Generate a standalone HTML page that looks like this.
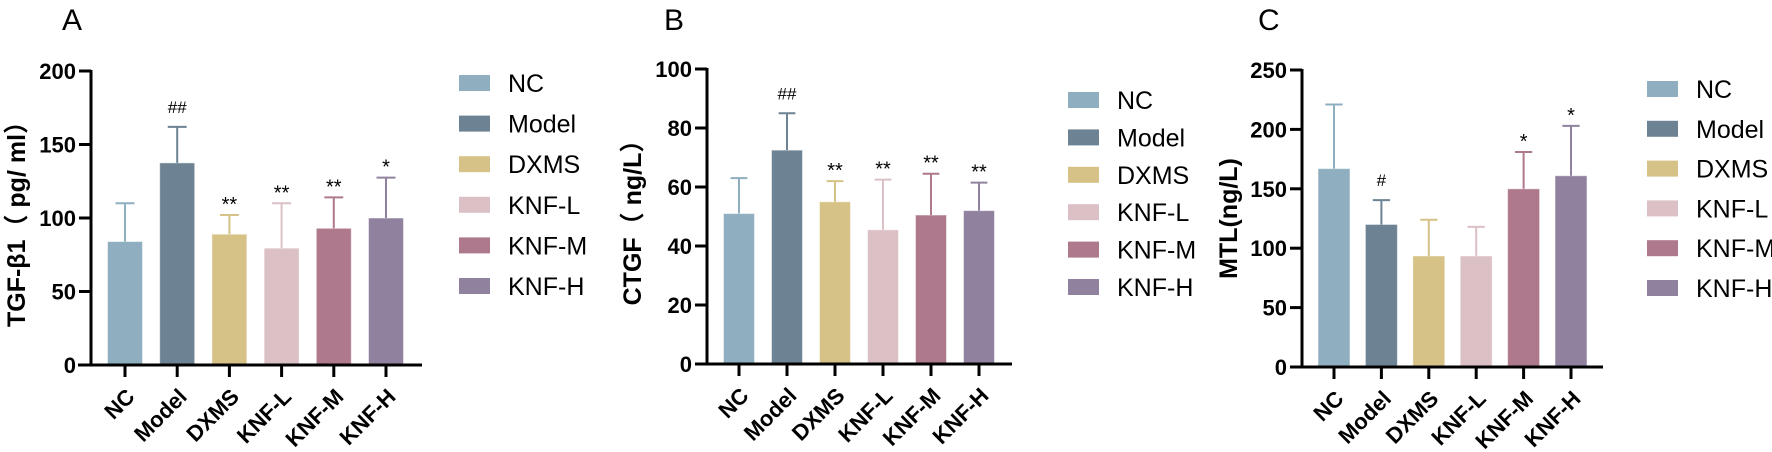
<!DOCTYPE html>
<html><head><meta charset="utf-8"><style>
html,body{margin:0;padding:0;background:#fff;}
svg{display:block;font-family:"Liberation Sans","Noto Sans CJK SC",sans-serif;}
</style></head><body>
<svg id="fig" width="1772" height="452" viewBox="0 0 1772 452"></svg>
<script>
const categories = ["NC","Model","DXMS","KNF-L","KNF-M","KNF-H"];
const colors = ["#8fafc0","#6d8393","#d6c287","#dbc0c6","#ae788d","#90829f"];
const aMeans = [84, 137.5, 89, 79.5, 93, 100];
const aErrTop = [110, 162, 102, 110, 114, 127.5];
const aMarks = ["", "##", "**", "**", "**", "*"];
const aTicks = [0, 50, 100, 150, 200];
const bMeans = [51, 72.5, 55, 45.5, 50.5, 52];
const bErrTop = [63, 85, 62, 62.5, 64.5, 61.5];
const bMarks = ["", "##", "**", "**", "**", "**"];
const bTicks = [0, 20, 40, 60, 80, 100];
const cMeans = [167, 120, 93.5, 93.5, 150, 161];
const cErrTop = [221, 140.5, 124, 118, 181, 203];
const cMarks = ["", "#", "", "", "*", "*"];
const cTicks = [0, 50, 100, 150, 200, 250];

const NS = "http://www.w3.org/2000/svg";
const svg = document.getElementById("fig");
function mk(tag, attrs, parent, text){
  const e = document.createElementNS(NS, tag);
  for (const k in attrs) e.setAttribute(k, attrs[k]);
  if (text !== undefined) e.textContent = text;
  (parent || svg).appendChild(e);
  return e;
}

function panel(cfg, means, errTop, marks, ticks){
  const g = mk("g", {});
  
  
  const ymax = ticks[ticks.length-1];
  const yS = v => cfg.y0 - (cfg.y0 - cfg.yTop) * v / ymax;
  const xS = i => cfg.x1 + cfg.step * i;
  const L = mk("text", {x: cfg.letterX, y: 30, "font-size": 30}, g, cfg.letter);
  
  
  means.forEach((m, i) => {
    const cx = xS(i);
    const b = mk("rect", {x: cx - cfg.bw/2, y: yS(m), width: cfg.bw, height: cfg.y0 - yS(m), fill: colors[i], stroke: "#ffffff", "stroke-opacity": 0.5, "stroke-width": 1}, g);
    
    
    const et = yS(errTop[i]);
    const e1 = mk("path", {d: `M${cx},${yS(m)}V${et}M${cx - cfg.bw*0.27},${et}H${cx + cfg.bw*0.27}`, stroke: colors[i], "stroke-width": 2, fill: "none"}, g);
    
    
    if (marks[i]) {
      const isHash = marks[i][0] === "#";
      const t = mk("text", {x: cx, y: et - (isHash ? 14 : 4), "text-anchor": "middle", "font-size": isHash ? 17 : 20}, g, marks[i]);
      
      
    }
    const tk = mk("line", {x1: cx, x2: cx, y1: cfg.y0, y2: cfg.y0 + 12, stroke: "#000", "stroke-width": 3}, g);
    
    
    const xl = mk("text", {x: 0, y: 0, transform: `translate(${cx + 11},${cfg.y0 + 33}) rotate(-45)`, "text-anchor": "end", "font-size": 22, "font-weight": "bold"}, g, categories[i]);
    
    
  });
  const ya = mk("line", {x1: cfg.ax, x2: cfg.ax, y1: cfg.yTop - 1, y2: cfg.y0 + 1.5, stroke: "#000", "stroke-width": 3}, g);
  
  
  const xa = mk("line", {x1: cfg.xStart, x2: cfg.xEnd, y1: cfg.y0, y2: cfg.y0, stroke: "#000", "stroke-width": 3}, g);
  
  
  ticks.forEach(v => {
    const y = yS(v);
    if (v > 0) {
      const t = mk("line", {x1: cfg.ax - 12, x2: cfg.ax, y1: y, y2: y, stroke: "#000", "stroke-width": 3}, g);
      
      
    }
    const tl = mk("text", {x: cfg.ax - 15, y: y + 8, "text-anchor": "end", "font-size": 22, "font-weight": "bold"}, g, String(v));
    
    
  });
  const yt = mk("text", {x: 0, y: 0, transform: `translate(${cfg.titleX},${(cfg.y0 + cfg.yTop)/2}) rotate(-90)`, "text-anchor": "middle", "font-size": 25, "font-weight": "bold"}, g, cfg.title);
  
  
  categories.forEach((c, i) => {
    const y = cfg.legY + cfg.legStep * i;
    const lg = mk("g", {}, g);
    
    
    const sw = mk("rect", {x: cfg.legX, y: y - 8, width: 31, height: 16, fill: colors[i]}, lg);
    
    
    const lt = mk("text", {x: cfg.legX + 49, y: y + 9, "font-size": 25}, lg, c);
    
    
  });
}

panel({name:"panel-a", letter:"A", letterX:62, ax:91, xStart:78, xEnd:422, y0:365, yTop:71, x1:125, step:52.2, bw:35, titleX:25, title:"TGF-β1（ pg/ ml）", legX:459, legY:83, legStep:40.6}, aMeans, aErrTop, aMarks, aTicks);
panel({name:"panel-b", letter:"B", letterX:664, ax:707, xStart:695, xEnd:1012, y0:364, yTop:69, x1:739, step:48, bw:31, titleX:641, title:"CTGF（ ng/L）", legX:1068, legY:100, legStep:37.4}, bMeans, bErrTop, bMarks, bTicks);
panel({name:"panel-c", letter:"C", letterX:1258, ax:1302, xStart:1290, xEnd:1603, y0:367, yTop:70, x1:1334, step:47.4, bw:32, titleX:1237, title:"MTL(ng/L)", legX:1647, legY:89, legStep:39.8}, cMeans, cErrTop, cMarks, cTicks);
</script>
</body></html>
